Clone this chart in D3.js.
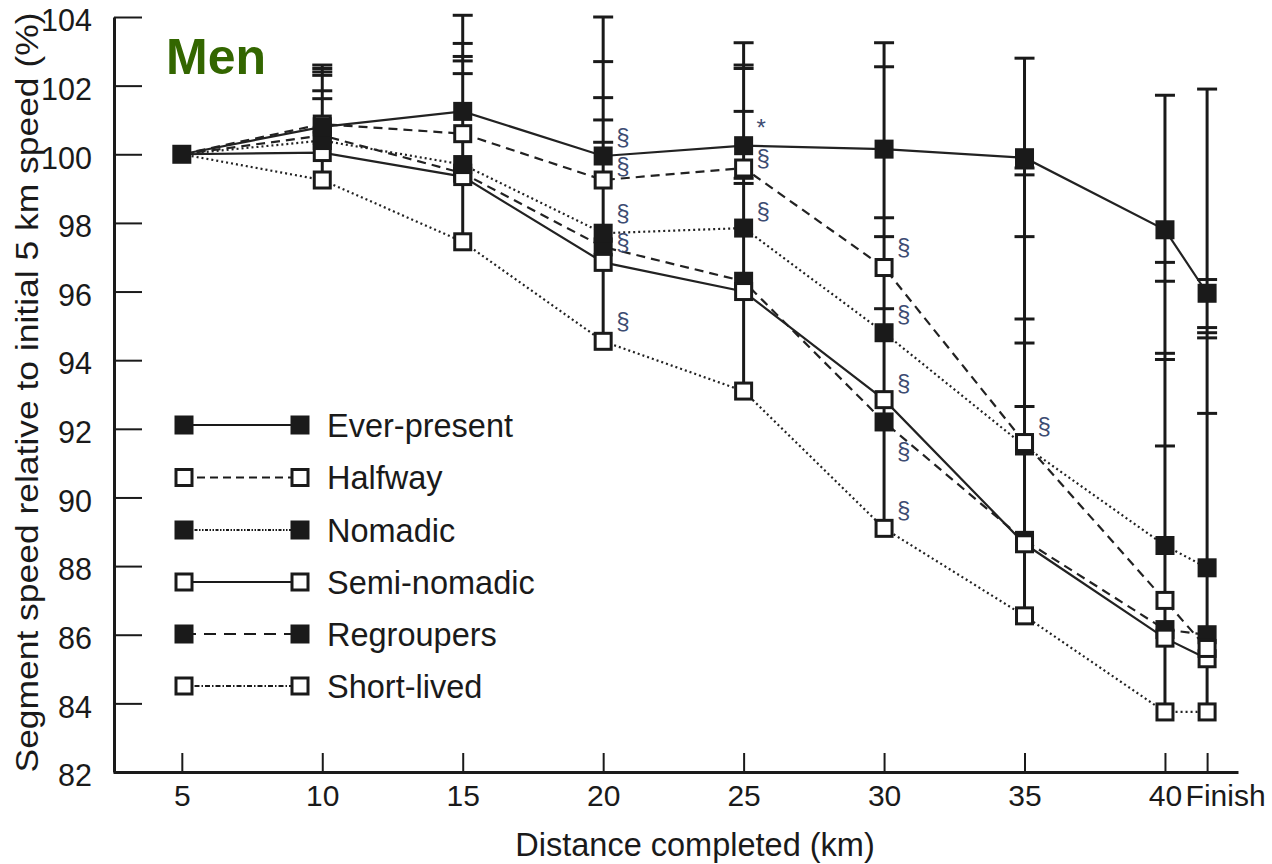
<!DOCTYPE html>
<html>
<head>
<meta charset="utf-8">
<script src="https://cdnjs.cloudflare.com/ajax/libs/d3/7.8.5/d3.min.js"></script>
<style>
  html, body { margin: 0; padding: 0; background: #fff; }
  svg { display: block; }
  text { font-family: "Liberation Sans", Arial, sans-serif; }
</style>
</head>
<body>
<svg id="chart" width="1272" height="864"></svg>
<script>
// ---------- DATA ----------
const distances = [5, 10, 15, 20, 25, 30, 35, 40, 41.5];
const tickLabels = ["5", "10", "15", "20", "25", "30", "35", "40", "Finish"];
const yTicks = [82, 84, 86, 88, 90, 92, 94, 96, 98, 100, 102, 104];

const seriesNames = ["Ever-present", "Halfway", "Nomadic", "Semi-nomadic", "Regroupers", "Short-lived"];
const everPresent = [100, 100.8, 101.25, 99.95, 100.25, 100.15, 99.9, 97.8, 95.95];
const halfway     = [100, 100.88, 100.6, 99.25, 99.6, 96.7, 91.6, 87.0, 85.6];
const nomadic     = [100, 100.4, 99.7, 97.7, 97.85, 94.8, 91.5, 88.6, 87.95];
const semiNomadic = [100, 100.05, 99.35, 96.85, 96.0, 92.85, 88.65, 85.9, 85.3];
const regroupers  = [100, 100.55, 99.45, 97.3, 96.3, 92.2, 88.75, 86.15, 86.0];
const shortLived  = [100, 99.25, 97.45, 94.55, 93.1, 89.1, 86.55, 83.75, 83.75];

// error bar cap values at each distance
const errCaps = [
  [],
  [102.6, 102.5, 102.4, 102.3, 101.85, 101.62],
  [104.05, 103.23, 102.85, 102.72, 102.35],
  [104.0, 102.7, 101.65, 101.0, 100.35],
  [103.25, 102.6, 102.5, 101.25, 99.3, 99.15],
  [103.25, 102.55, 98.15, 97.6, 95.5],
  [102.8, 99.6, 99.4, 97.6, 95.2, 94.5, 92.65],
  [101.72, 96.85, 96.3, 94.2, 94.02, 91.5],
  [101.9, 96.35, 94.95, 94.8, 94.65, 92.45]
];

// significance annotations
const annotDist   = [20, 20, 20, 20, 20, 25, 25, 25, 30, 30, 30, 30, 30, 35];
const annotValue  = [100.52, 99.68, 98.3, 97.45, 95.15, 100.78, 99.9, 98.37, 97.3, 95.36, 93.35, 91.37, 89.65, 92.1];
const annotSymbol = ["§", "§", "§", "§", "§", "*", "§", "§", "§", "§", "§", "§", "§", "§"];

// ---------- STYLE ----------
const seriesValues = [everPresent, halfway, nomadic, semiNomadic, regroupers, shortLived];
const filled = [true, false, true, false, true, false];
const plotDash = [null, "9,6", "2,3", null, "9,6", "2,3"];
const legendDash = [null, "8,5", "3,1.5,1.5,1.5,1.5,1.5", null, "12,8", "5,2,1.5,2"];
const markerOrder = [4, 3, 2, 1, 0, 5];
const ink = "#1a1a1a";

const svg = d3.select("#chart");
const M = { left: 114, right: 1238, top: 17, bottom: 772 };

const x = d3.scaleLinear().domain([2.55, 42.6]).range([M.left - 1, M.right]);
const y = d3.scaleLinear().domain([82, 104]).range([M.bottom, M.top]);

// ---------- AXES ----------
const yAxis = d3.axisLeft(y).tickValues(yTicks).tickFormat(d3.format("d"))
  .tickSizeInner(-28).tickSizeOuter(0).tickPadding(22);
const gy = svg.append("g").attr("transform", `translate(${M.left},0)`).call(yAxis);
gy.select(".domain").attr("stroke", ink).attr("stroke-width", 3);
gy.selectAll(".tick line").attr("stroke", ink).attr("stroke-width", 2);
gy.selectAll(".tick text").attr("font-size", 30.5).attr("fill", ink)
  .attr("font-family", "Liberation Sans, Arial, sans-serif").attr("dy", "0.45em");

const xAxis = d3.axisBottom(x).tickValues(distances).tickFormat((d, i) => tickLabels[i])
  .tickSizeInner(-19).tickSizeOuter(0).tickPadding(13);
const gx = svg.append("g").attr("transform", `translate(0,${M.bottom})`).call(xAxis);
gx.select(".domain").attr("stroke", ink).attr("stroke-width", 3);
gx.selectAll(".tick line").attr("stroke", ink).attr("stroke-width", 2);
gx.selectAll(".tick text").attr("font-size", 30).attr("fill", ink)
  .attr("font-family", "Liberation Sans, Arial, sans-serif");
gx.selectAll(".tick text").filter((d, i) => i === distances.length - 1)
  .attr("text-anchor", "start").attr("dx", -22);

// axis titles
svg.append("text")
  .attr("transform", `translate(38,${(M.top + M.bottom) / 2 - 2}) rotate(-90)`)
  .attr("text-anchor", "middle").attr("font-size", 31).attr("fill", ink)
  .attr("textLength", 760).attr("lengthAdjust", "spacingAndGlyphs")
  .text("Segment speed relative to initial 5 km speed (%)");

svg.append("text")
  .attr("x", 695).attr("y", 856).attr("text-anchor", "middle")
  .attr("font-size", 32.5).attr("fill", ink)
  .text("Distance completed (km)");

svg.append("text")
  .attr("x", 166).attr("y", 74).attr("font-size", 50).attr("font-weight", "bold")
  .attr("fill", "#336600").text("Men");

// ---------- ERROR BARS ----------
const gErr = svg.append("g");
distances.forEach((d, i) => {
  const caps = errCaps[i];
  if (!caps.length) return;
  const lows = seriesValues.map(s => s[i]);
  const lo = d3.min(lows), hi = d3.max(caps);
  gErr.append("line")
    .attr("x1", x(d)).attr("x2", x(d)).attr("y1", y(lo)).attr("y2", y(hi))
    .attr("stroke", ink).attr("stroke-width", 3);
  caps.forEach(c => {
    gErr.append("line")
      .attr("x1", x(d) - 10).attr("x2", x(d) + 10).attr("y1", y(c)).attr("y2", y(c))
      .attr("stroke", ink).attr("stroke-width", 3);
  });
});

// ---------- LINES ----------
const line = d3.line().x((v, i) => x(distances[i])).y(v => y(v));
seriesValues.forEach((s, k) => {
  svg.append("path").datum(s).attr("d", line)
    .attr("fill", "none").attr("stroke", "#222").attr("stroke-width", 2.2)
    .attr("stroke-dasharray", plotDash[k]);
});

// ---------- MARKERS ----------
function drawMarker(g, cx, cy, isFilled) {
  if (isFilled) {
    g.append("rect").attr("x", cx - 9.5).attr("y", cy - 9.5).attr("width", 19).attr("height", 19)
      .attr("fill", ink);
  } else {
    g.append("rect").attr("x", cx - 8).attr("y", cy - 8).attr("width", 16).attr("height", 16)
      .attr("fill", "#fff").attr("stroke", ink).attr("stroke-width", 3);
  }
}
const gMark = svg.append("g");
markerOrder.forEach(k => {
  seriesValues[k].forEach((v, i) => {
    if (i === 0) return;
    drawMarker(gMark, x(distances[i]), y(v), filled[k]);
  });
});
// 5 km point (all at 100)
drawMarker(gMark, x(distances[0]), y(everPresent[0]), true);

// ---------- ANNOTATIONS ----------
annotDist.forEach((d, i) => {
  svg.append("text")
    .attr("x", x(d) + 13).attr("y", y(annotValue[i]))
    .attr("dominant-baseline", "central")
    .attr("font-size", 24)
    .attr("fill", "#3d4c72")
    .text(annotSymbol[i]);
});

// ---------- LEGEND ----------
const legendRowY = [425, 477.5, 530, 582, 634, 686];
const gLeg = svg.append("g");
seriesNames.forEach((name, k) => {
  const ry = legendRowY[k];
  gLeg.append("line").attr("x1", 184).attr("x2", 300).attr("y1", ry).attr("y2", ry)
    .attr("stroke", ink).attr("stroke-width", 2).attr("stroke-dasharray", legendDash[k]);
  [184, 300].forEach(cx => drawMarker(gLeg, cx, ry, filled[k]));
  gLeg.append("text").attr("x", 327).attr("y", ry + 11.5)
    .attr("font-size", 32.5).attr("fill", ink).text(name);
});
</script>
</body>
</html>
